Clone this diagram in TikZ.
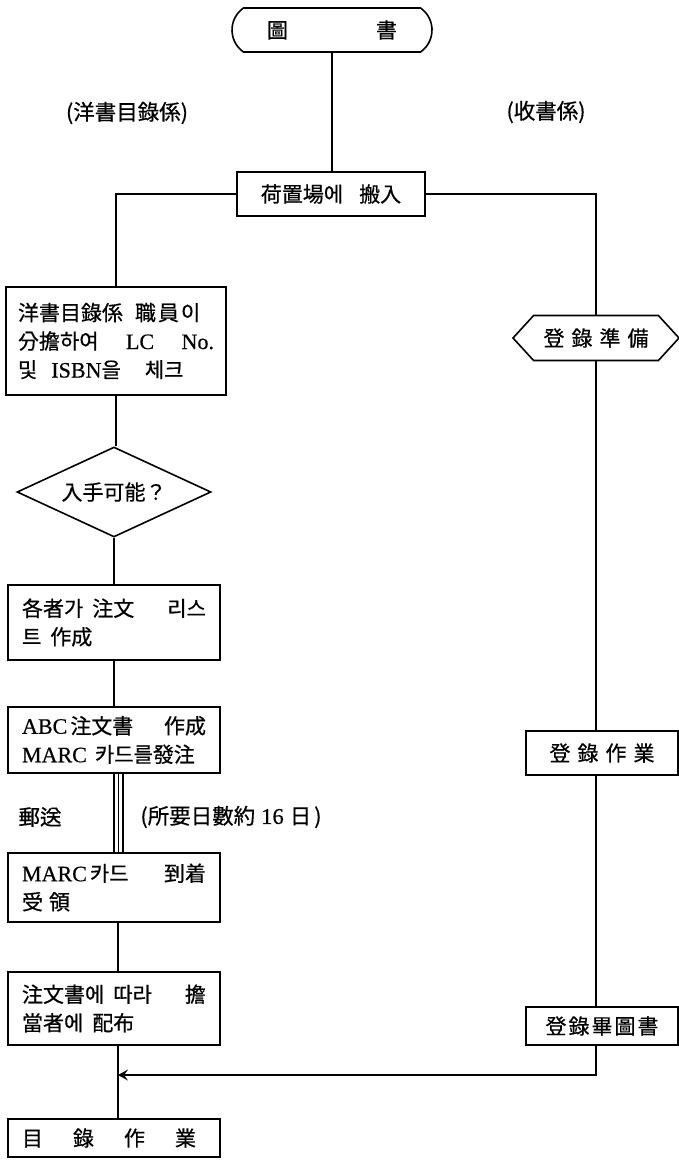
\documentclass[tikz,border=0pt]{standalone}
\usepackage{fontspec}
\setmainfont{Noto Sans CJK KR}[FakeBold=0.6]
\newfontfamily\lat{Liberation Serif}[FakeBold=0.5,Scale=1.05]
\usetikzlibrary{shapes.misc,shapes.symbols,shapes.geometric,arrows.meta}
\begin{document}
\begin{tikzpicture}[x=1pt,y=-1pt,
  every node/.style={font=\fontsize{21}{28.5}\selectfont},
  box/.style={draw, line width=1.6pt, rectangle, inner sep=0pt, align=left},
  lbl/.style={font=\fontsize{21.5}{24}\selectfont, inner sep=0pt},
  conn/.style={line width=1.6pt}]
\useasboundingbox (0,0) rectangle (679,1162);
% top terminal
\node[draw, line width=1.6pt, rounded rectangle, rounded rectangle arc length=110,
  minimum width=200pt, minimum height=44pt, inner sep=0pt] (term) at (332,30) {圖\hspace{88pt}書};
% section labels
\node[lbl] (lab1) at (127,113) {(洋書目錄係)};
\node[lbl] (lab2) at (546,112) {(收書係)};
% centre box
\node[box, minimum width=188pt, minimum height=44pt, align=center] (hs) at (331,194) {荷置場에\hspace{16pt}搬入};
% left column
\node[box, minimum width=220pt, minimum height=108pt, text width=196pt] (b1) at (116,341)
  {洋書目錄係\hspace{12pt}職\hspace{2pt}員\hspace{2pt}이\\ 分擔하여\hfill {\lat LC}\hfill {\lat No.}\\ 및\hspace{14pt}{\lat ISBN}을\hspace{24pt}체크};
\node[draw, line width=1.6pt, diamond, aspect=2, minimum width=194pt, minimum height=90pt, inner sep=0pt] (dia) at (114,492) {入手可能？};
\node[box, minimum width=212pt, minimum height=75pt, text width=184pt] (b2) at (114,622.5)
  {各者가\hspace{9pt}注文\hfill 리스\\ 트\hspace{9pt}作成};
\node[box, minimum width=212pt, minimum height=66pt, text width=184pt] (b3) at (114,740)
  {{\lat ABC}\hspace{3pt}注文書\hfill 作成\\ {\lat MARC}\hspace{8pt}카드를發注};
\node[box, minimum width=212pt, minimum height=69pt, text width=184pt] (b4) at (114,887.5)
  {{\lat MARC}\hspace{3pt}카드\hfill 到着\\ 受\hspace{6pt}領};
\node[box, minimum width=212pt, minimum height=73pt, text width=184pt] (b5) at (114,1008.5)
  {注文書에\hspace{9pt}따라\hfill 擔\\ 當者에\hspace{9pt}配布};
\node[box, minimum width=212pt, minimum height=38pt, text width=184pt] (b6) at (114,1138)
  {目\hspace{30pt}錄\hspace{30pt}作\hspace{30pt}業};
% mail labels
\node[lbl] (mail) at (40,817) {郵送};
\node[lbl] (days) at (231,817) {(所要日數約\hspace{6pt}{\lat 16}\hspace{6pt}日\hspace{3pt})};
% right column
\node[draw, line width=1.6pt, signal, signal to=west and east, signal pointer angle=95,
  minimum width=166pt, minimum height=45pt, inner sep=0pt] (hex) at (596,338)
  {登\hspace{7pt}錄\hspace{7pt}準\hspace{7pt}備};
\node[box, minimum width=152pt, minimum height=44pt, align=center] (reg1) at (602,753)
  {登\hspace{7pt}錄\hspace{7pt}作\hspace{7pt}業};
\node[box, minimum width=152pt, minimum height=38pt, align=center] (reg2) at (602,1026)
  {登\hspace{2pt}錄\hspace{2pt}畢\hspace{2pt}圖\hspace{2pt}書};
% connectors
\draw[conn] (term.south) -- (term.south |- hs.north);
\draw[conn] (hs.west) -| (b1.north);
\draw[conn] (hs.east) -| (hex.north);
\draw[conn] (b1.south) -- (b1.south |- dia.north);
\draw[conn] (dia.south) -- (b2.north);
\draw[conn] (b2.south) -- (b3.north);
\draw[conn] (b3.south) -- (b4.north);
\draw[conn] ([xshift=4.5pt]b3.south) -- ([xshift=4.5pt]b4.north);
\draw[conn] ([xshift=9pt]b3.south) -- ([xshift=9pt]b4.north);
\draw[conn] ([xshift=4pt]b4.south) -- ([xshift=4pt]b5.north);
\draw[conn] ([xshift=4pt]b5.south) -- ([xshift=4pt]b6.north);
\draw[conn] (hex.south) -- (hex.south |- reg1.north);
\draw[conn] (hex.south |- reg1.south) -- (hex.south |- reg2.north);
\coordinate (join) at (118,1075);
\draw[conn, -{Stealth[length=10pt, width=11pt, inset=4pt]}] (hex.south |- reg2.south) |- (join);
\end{tikzpicture}
\end{document}
